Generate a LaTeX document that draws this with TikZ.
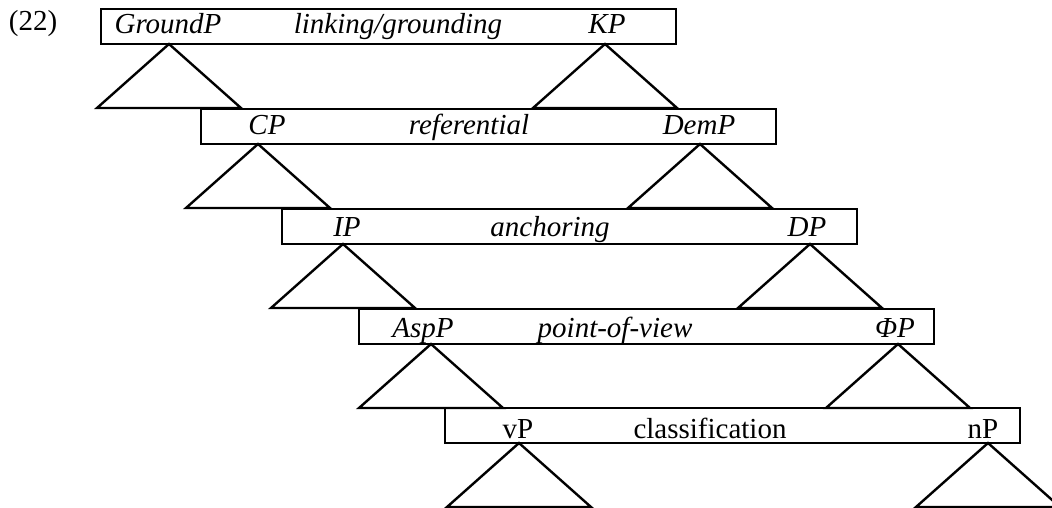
\documentclass[tikz,border=0pt]{standalone}
\usepackage{fontspec}
\setmainfont{Liberation Serif}
\begin{document}
\begin{tikzpicture}[x=1pt,y=-1pt,
  layerbox/.style={draw, minimum width=575pt, minimum height=35pt, inner sep=0pt, line width=2.6pt},
  lab/.style={anchor=base, inner sep=0pt, font=\fontsize{29}{34}\selectfont\itshape},
  ulab/.style={anchor=base, inner sep=0pt, font=\fontsize{29}{34}\selectfont},
  tri/.style={line width=2.4pt, line join=miter}]
\useasboundingbox (0,0) rectangle (1052,508);
\node[ulab] (num) at (33,31) {(22)};
% boxes
\node[layerbox] (b1) at (388.5,26.5) {};
\node[layerbox] (b2) at (488.5,126.5) {};
\node[layerbox] (b3) at (569.5,226.5) {};
\node[layerbox] (b4) at (646.5,326.5) {};
\node[layerbox] (b5) at (732.5,425.5) {};
% labels
\node[lab] (l1a) at (168,34) {GroundP};
\node[lab] (l1m) at (398,34) {linking/grounding};
\node[lab] (l1b) at (607,34) {KP};
\node[lab] (l2a) at (267,135) {CP};
\node[lab] (l2m) at (469,135) {referential};
\node[lab] (l2b) at (699,135) {DemP};
\node[lab] (l3a) at (347,236) {IP};
\node[lab] (l3m) at (550,236) {anchoring};
\node[lab] (l3b) at (807,236) {DP};
\node[lab] (l4a) at (423,337) {AspP};
\node[lab] (l4m) at (615,337) {point-of-view};
\node[lab] (l4b) at (895,337) {ΦP};
\node[ulab] (l5a) at (518,438) {vP};
\node[ulab] (l5m) at (710,438) {classification};
\node[ulab] (l5b) at (983,438) {nP};
% triangle apexes
\coordinate (t1a) at (169,44);
\coordinate (t1b) at (605,44);
\coordinate (t2a) at (258,144);
\coordinate (t2b) at (700,144);
\coordinate (t3a) at (343,244);
\coordinate (t3b) at (810,244);
\coordinate (t4a) at (431,344);
\coordinate (t4b) at (898,344);
\coordinate (t5a) at (519,443);
\coordinate (t5b) at (988,443);
\foreach \t in {t1a,t1b,t2a,t2b,t3a,t3b,t4a,t4b,t5a,t5b}
  \draw[tri] (\t) -- ++(-72,64) -- ++(144,0) -- cycle;
\end{tikzpicture}
\end{document}
